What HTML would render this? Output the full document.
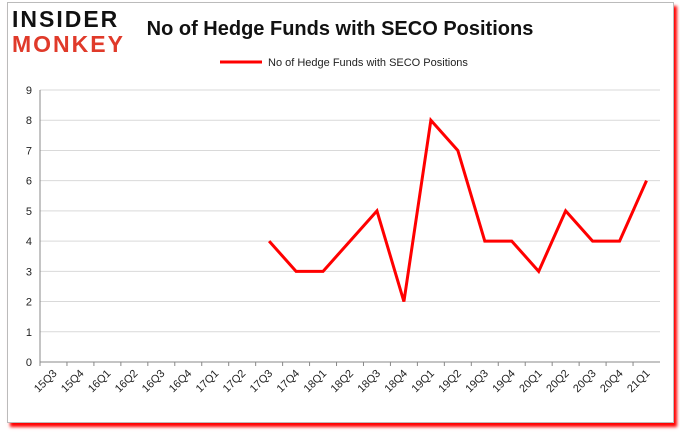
<!DOCTYPE html>
<html><head><meta charset="utf-8"><style>
body{margin:0;width:680px;height:433px;background:#fff;overflow:hidden;font-family:"Liberation Sans",sans-serif}
#frame{position:absolute;left:7px;top:2px;width:665px;height:419px;border:1px solid #bbb;box-shadow:3px 4px 3px #f00;background:#fff}
</style></head><body>
<div id="frame"></div>
<svg width="680" height="433" style="position:absolute;left:0;top:0" id="svg">
<text x="12" y="27" font-size="23" font-weight="bold" fill="#111" font-family="Liberation Sans" letter-spacing="2">INSIDER</text>
<text x="12" y="52" font-size="23" font-weight="bold" fill="#e03a2a" font-family="Liberation Sans" letter-spacing="2">MONKEY</text>
<text x="340" y="35" font-size="20" font-weight="bold" fill="#111" text-anchor="middle">No of Hedge Funds with SECO Positions</text>
<line x1="220" y1="62" x2="262" y2="62" stroke="#f00" stroke-width="3"/>
<text x="268" y="66" font-size="11" fill="#222">No of Hedge Funds with SECO Positions</text>
<g id="g"></g>
</svg>
<script>
const categories=["15Q3","15Q4","16Q1","16Q2","16Q3","16Q4","17Q1","17Q2","17Q3","17Q4","18Q1","18Q2","18Q3","18Q4","19Q1","19Q2","19Q3","19Q4","20Q1","20Q2","20Q3","20Q4","21Q1"];
const values=[null,null,null,null,null,null,null,null,4,3,3,4,5,2,8,7,4,4,3,5,4,4,6];
const yTicks=[0,1,2,3,4,5,6,7,8,9];
const L=40,R=660,T=90,B=362,NS="http://www.w3.org/2000/svg";
const bw=(R-L)/categories.length;
const x=i=>L+bw*(i+0.5);
const y=v=>B-(B-T)*v/9;
const g=document.getElementById('g');
function el(t,a){const e=document.createElementNS(NS,t);for(const k in a)e.setAttribute(k,a[k]);g.appendChild(e);return e;}
yTicks.forEach(v=>{
 const l=el('line',{x1:L,x2:R,y1:y(v),y2:y(v),stroke:v?'#d9d9d9':'#888'});
 
 
 const t=el('text',{x:L-8,y:y(v)+4,'font-size':11,'text-anchor':'end',fill:'#222'});t.textContent=v;
 
 
});
const ax=el('line',{x1:L,x2:L,y1:T,y2:B,stroke:'#888'});


categories.forEach((c,i)=>{
 const tk=el('line',{x1:L+bw*i,x2:L+bw*i,y1:B,y2:B+4,stroke:'#888'});
 
 
 const t=el('text',{x:x(i)+4,y:B+12,'font-size':11,'text-anchor':'end',fill:'#222',transform:`rotate(-45 ${x(i)+4} ${B+12})`});t.textContent=c;
 
 
});
let d='';values.forEach((v,i)=>{if(v!==null)d+=(d?'L':'M')+x(i)+' '+y(v);});
const p=el('path',{d:d,fill:'none',stroke:'#f00','stroke-width':3,'stroke-linejoin':'miter'});


</script>
</body></html>
